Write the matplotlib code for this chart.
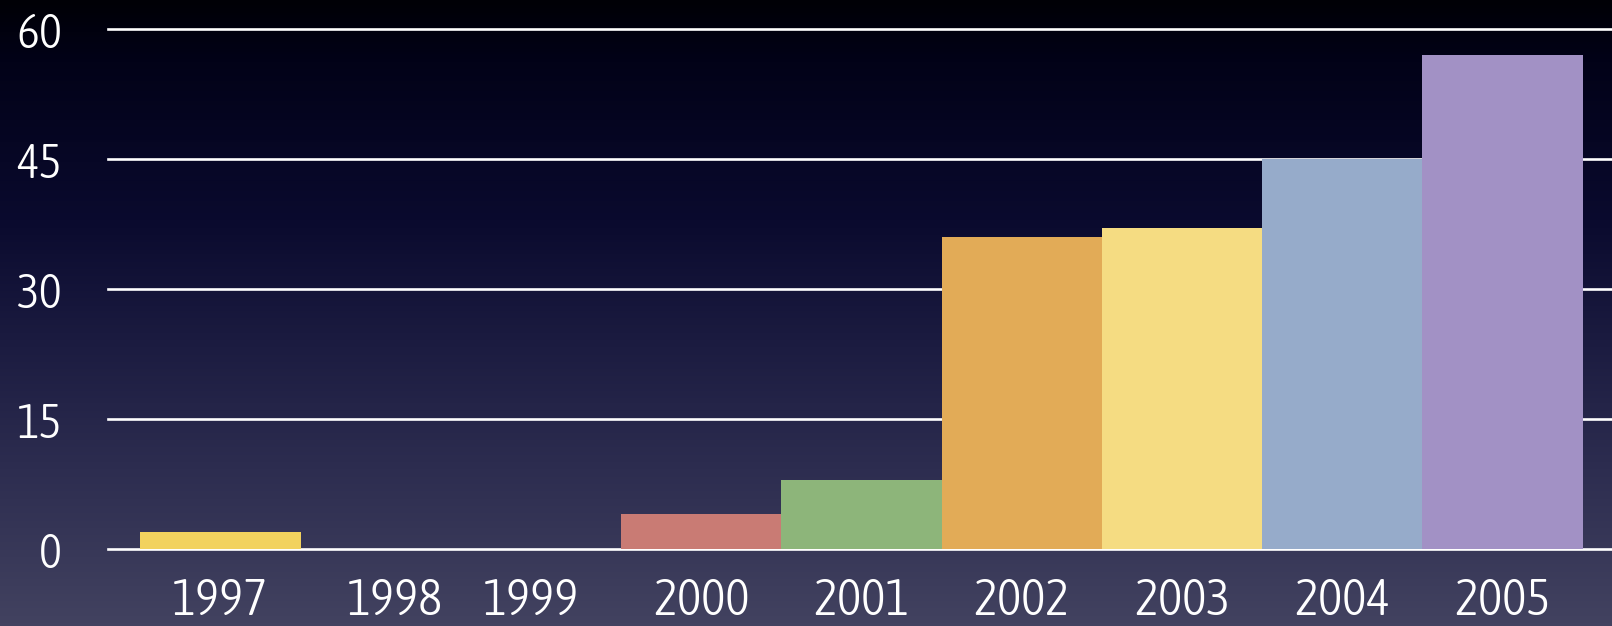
import matplotlib
matplotlib.use("Agg")
import matplotlib.pyplot as plt
import numpy as np
from matplotlib import font_manager
from matplotlib.font_manager import FontProperties
from matplotlib.colors import LinearSegmentedColormap

# ---- data ----
years = ["1997", "1998", "1999", "2000", "2001", "2002", "2003", "2004", "2005"]
values = [2, 0, 0, 4, 8, 36, 37, 45, 57]
bar_colors = ["#f2d25e", "#f2d25e", "#f2d25e", "#c97b74", "#8db57a",
              "#e2ab57", "#f5dc82", "#96abca", "#a291c5"]
y_ticks = [0, 15, 30, 45, 60]
label_nudge = [0, 0.09, -0.06, 0, 0, 0, 0, 0, 0]


# ---- font: prefer a narrow, light sans ----
def pick_font():
    entries = font_manager.fontManager.ttflist
    cands = []
    for e in entries:
        narrow = ("Narrow" in e.name or "Condensed" in e.name
                  or e.stretch in ("condensed", "semi-condensed"))
        if narrow and "Mono" not in e.name and e.style == "normal":
            w = e.weight if isinstance(e.weight, int) else 400
            cands.append((abs(w - 300), e.fname))
    if cands:
        cands.sort()
        return FontProperties(fname=cands[0][1])
    return FontProperties(family="Liberation Sans")


fp = pick_font()

W, H = 1612, 626
fig = plt.figure(figsize=(W / 100, H / 100), dpi=100)

# background gradient
bg = fig.add_axes([0, 0, 1, 1], zorder=-10)
stops = [(0.0, "#000006"), (60 / 626, "#020218"), (220 / 626, "#0a0a2e"),
         (340 / 626, "#1b1b40"), (470 / 626, "#2d2d50"), (1.0, "#424260")]
cmap = LinearSegmentedColormap.from_list("bg", stops)
grad = np.linspace(0, 1, 626).reshape(-1, 1)
bg.imshow(grad, aspect="auto", cmap=cmap, extent=[0, 1, 0, 1], origin="upper")
bg.set_axis_off()

left = 108 / W
bottom = (H - 549) / H
top = (H - 29) / H
ax = fig.add_axes([left, bottom, 1 - left, top - bottom])
ax.patch.set_alpha(0)

x = np.arange(len(years))
for yt in y_ticks:
    ax.axhline(yt, color="white", lw=1.9, zorder=1, clip_on=False)
ax.bar(x, values, width=1.0, color=bar_colors, zorder=2, edgecolor="none")

ax.set_xlim(-0.702, 8.683)
ax.set_ylim(0, 60)
ax.set_yticks(y_ticks)
ax.set_yticklabels([str(v) for v in y_ticks])
ax.set_xticks(x + np.array(label_nudge))
ax.set_xticklabels(years)
ax.tick_params(axis="y", length=0, pad=33, labelcolor="white")
ax.tick_params(axis="x", length=0, pad=20, labelcolor="white")
for lab in ax.get_yticklabels():
    lab.set_fontproperties(fp)
    lab.set_fontsize(35)
for lab in ax.get_xticklabels():
    lab.set_fontproperties(fp)
    lab.set_fontsize(37)
for s in ax.spines.values():
    s.set_visible(False)

fig.savefig("out.png", dpi=100)
